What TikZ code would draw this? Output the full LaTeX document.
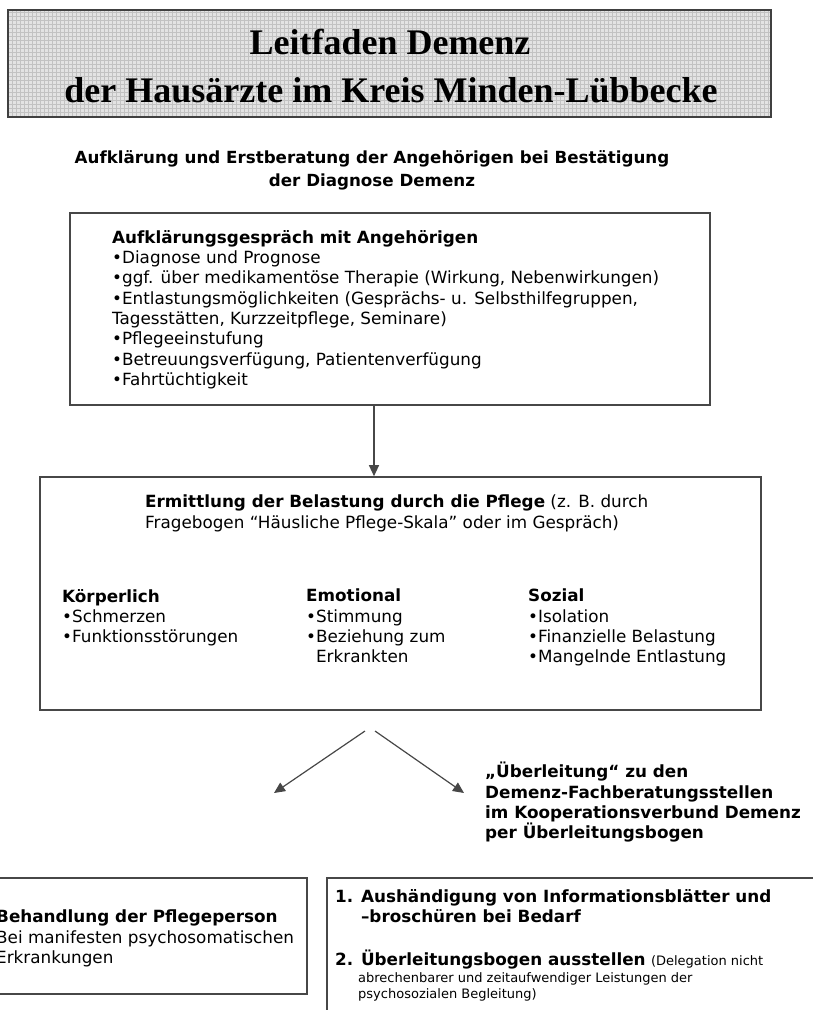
\documentclass[tikz,border=0pt]{standalone}
\usepackage{fontspec}
\setmainfont{DejaVu Sans}
\newfontfamily\titlefont{Liberation Serif}
\usetikzlibrary{arrows.meta}

\begin{document}
\begin{tikzpicture}[x=1pt,y=-1pt,
  frame/.style={draw=black!72, line width=1.6pt, fill=white, rectangle, inner sep=0pt},
  titlebox/.style={fill=black!11, rectangle, inner sep=0pt},
  titletext/.style={font=\titlefont\bfseries\fontsize{36}{40}\selectfont, inner sep=0pt},
  body/.style={inner sep=0pt, anchor=north west, align=left, font=\fontsize{16.8}{20.3}\selectfont},
  bodybold/.style={body, font=\bfseries\fontsize{16.8}{20.3}\selectfont},
  note/.style={inner sep=0pt, anchor=north west, align=left, font=\fontsize{13}{16}\selectfont},
  link/.style={draw=black!72, line width=1.2pt, -{Triangle[length=11pt,width=10pt]}}]

\useasboundingbox (0,0) rectangle (813,1010);

% ---- title banner with a fine grid ----
\node[titlebox, minimum width=763pt, minimum height=107pt] (title) at (389.5,63.5) {};
\begin{scope}
  \clip (title.north west) rectangle (title.south east);
  \draw[black!24, line width=0.35pt, step=4pt] (0,0) grid (813,130);
\end{scope}
\draw[draw=black!75, line width=1.6pt] (title.north west) rectangle (title.south east);
\node[titletext] (titleA) at (390,42) {Leitfaden Demenz};
\node[titletext] (titleB) at (391,90) {der Hausärzte im Kreis Minden-Lübbecke};

% ---- heading ----
\node[inner sep=0pt, align=center, font=\bfseries\fontsize{16.7}{23}\selectfont] (heading) at (372,170)
  {Aufklärung und Erstberatung der Angehörigen bei Bestätigung\\der Diagnose Demenz};

% ---- first box ----
\node[frame, minimum width=640pt, minimum height=192pt] (b1) at (390,309) {};
\node[body] (b1text) at (112,230)
  {\textbf{Aufklärungsgespräch mit Angehörigen}\\
   •Diagnose und Prognose\\
   •ggf. über medikamentöse Therapie (Wirkung, Nebenwirkungen)\\
   •Entlastungsmöglichkeiten (Gesprächs- u. Selbsthilfegruppen,\\
   Tagesstätten, Kurzzeitpflege, Seminare)\\
   •Pflegeeinstufung\\
   •Betreuungsverfügung, Patientenverfügung\\
   •Fahrtüchtigkeit};

% ---- second box ----
\node[frame, minimum width=721pt, minimum height=233pt] (b2) at (400.5,593.5) {};
\node[body] (b2head) at (145,495)
  {\textbf{Ermittlung der Belastung durch die Pflege} (z. B. durch\\
   Fragebogen “Häusliche Pflege-Skala” oder im Gespräch)};
\node[body] (colA) at (62,589)
  {\textbf{Körperlich}\\•Schmerzen\\•Funktionsstörungen};
\node[body] (colB) at (306,589)
  {\textbf{Emotional}\\•Stimmung\\•Beziehung zum\\\phantom{•}Erkrankten};
\node[body] (colC) at (528,589)
  {\textbf{Sozial}\\•Isolation\\•Finanzielle Belastung\\•Mangelnde Entlastung};

\coordinate (axis) at (374,0);
\draw[link] (b1.south -| axis) -- (b2.north -| axis);

% ---- fork ----
\coordinate (forkL) at (365,731);
\coordinate (forkR) at (375,731);
\coordinate (endL) at (274,793);
\coordinate (endR) at (464,793);
\draw[link] (forkL) -- (endL);
\draw[link] (forkR) -- (endR);

\node[bodybold] (transfer) at (485,762)
  {„Überleitung“ zu den\\
   Demenz-Fachberatungsstellen\\
   im Kooperationsverbund Demenz\\
   per Überleitungsbogen};

% ---- bottom boxes ----
\node[frame, minimum width=337pt, minimum height=116pt] (b3) at (138.5,936) {};
\node[body] (b3text) at (-4,910)
  {\textbf{Behandlung der Pflegeperson}\\
   Bei manifesten psychosomatischen\\
   Erkrankungen};

\node[frame, minimum width=520pt, minimum height=180pt] (b4) at (587,968) {};
\node[bodybold] (item1) at (335,889)
  {1. Aushändigung von Informationsblätter und\\
   \phantom{1. }–broschüren bei Bedarf};
\node[body] (item2) at (335,950)
  {\textbf{2. Überleitungsbogen ausstellen} {\fontsize{13}{16}\selectfont(Delegation nicht}};
\node[note] (item2note) at (358,972)
  {abrechenbarer und zeitaufwendiger Leistungen der\\
   psychosozialen Begleitung)};
\end{tikzpicture}
\end{document}
